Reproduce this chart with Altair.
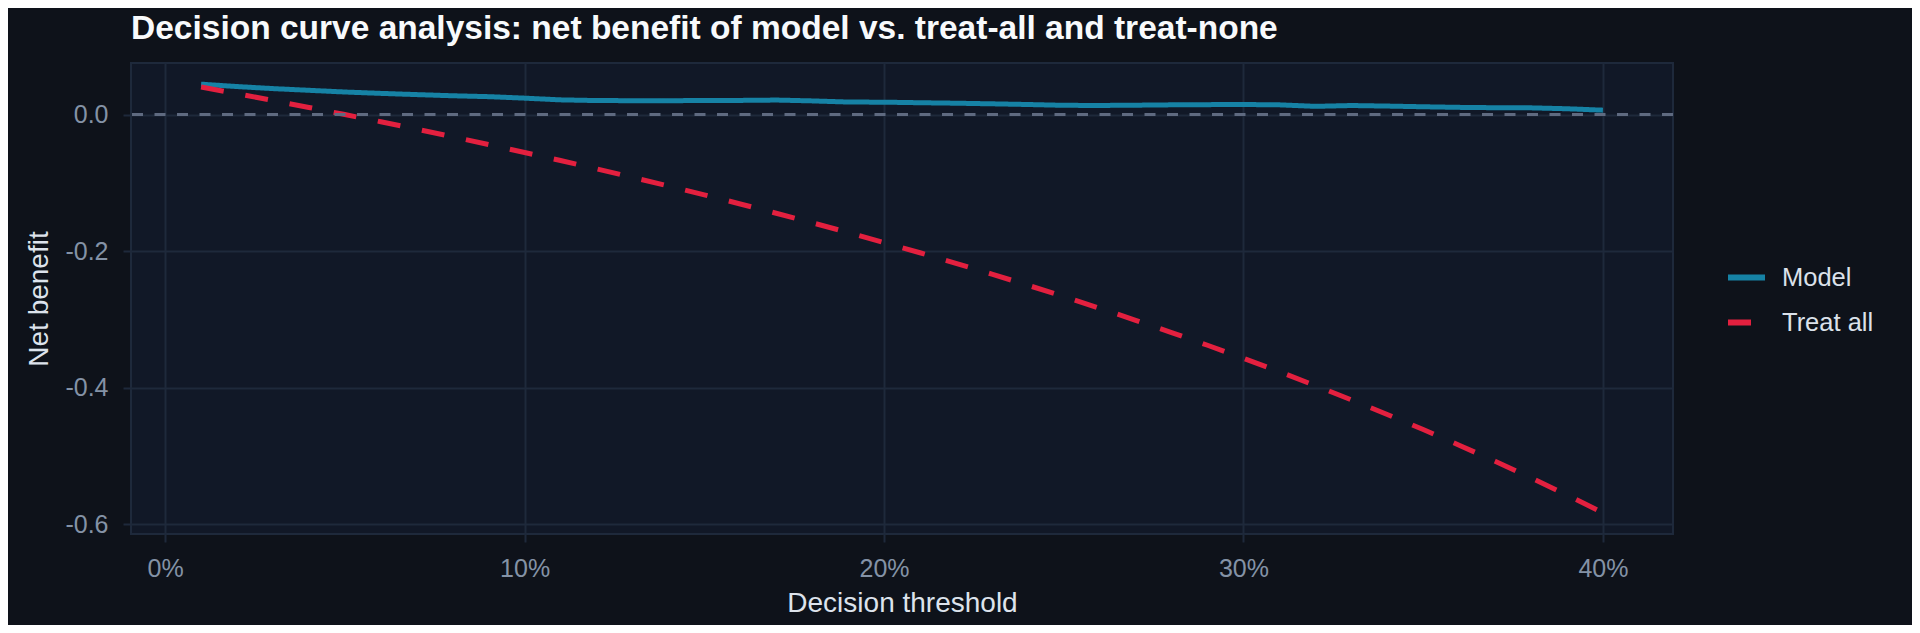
import altair as alt
import pandas as pd

thresholds = [round(0.01 * i, 2) for i in range(1, 41)]

model_nb = [0.0445, 0.0410, 0.0380, 0.0355, 0.0330, 0.0310, 0.0292, 0.0275, 0.0262, 0.0240,
            0.0215, 0.0205, 0.0203, 0.0203, 0.0205, 0.0207, 0.0212, 0.0200, 0.0183, 0.0181,
            0.0173, 0.0166, 0.0157, 0.0147, 0.0135, 0.0133, 0.0137, 0.0142, 0.0145, 0.0147,
            0.0142, 0.0120, 0.0132, 0.0124, 0.0114, 0.0105, 0.0100, 0.0098, 0.0085, 0.0064]

treat_all_nb = [0.0404, 0.0306, 0.0206, 0.0104, 0.0000, -0.0106, -0.0215, -0.0326, -0.0440, -0.0556,
                -0.0674, -0.0795, -0.0920, -0.1047, -0.1176, -0.1310, -0.1446, -0.1585, -0.1728, -0.1875,
                -0.2025, -0.2179, -0.2338, -0.2500, -0.2667, -0.2838, -0.3014, -0.3194, -0.3380, -0.3571,
                -0.3768, -0.3971, -0.4179, -0.4394, -0.4615, -0.4844, -0.5079, -0.5323, -0.5574, -0.5833]

series_names = ["Model", "Treat all"]
series_colors = ["#1682a5", "#e3203f"]

x_ticks = [0.0, 0.1, 0.2, 0.3, 0.4]
y_ticks = [0.0, -0.2, -0.4, -0.6]

df = pd.DataFrame({
    "threshold": thresholds * 2,
    "net_benefit": model_nb + treat_all_nb,
    "series": [series_names[0]] * len(thresholds) + [series_names[1]] * len(thresholds),
})
zero_df = pd.DataFrame({"zero": [0.0]})

FONT = "Liberation Sans"

x_scale = alt.Scale(domain=[-0.0095, 0.4195], nice=False, zero=False)
y_scale = alt.Scale(domain=[-0.6145, 0.0755], nice=False, zero=False)

lines = alt.Chart(df).mark_line(strokeWidth=5, strokeCap="butt").encode(
    x=alt.X("threshold:Q", scale=x_scale,
            axis=alt.Axis(title="Decision threshold", values=x_ticks, format=".0%",
                          labelPadding=14, titlePadding=8)),
    y=alt.Y("net_benefit:Q", scale=y_scale,
            axis=alt.Axis(title="Net benefit", values=y_ticks,
                          labelExpr="datum.value < 0 ? '-' + format(-datum.value, '.1f') : format(datum.value, '.1f')",
                          labelPadding=15, titlePadding=11)),
    color=alt.Color("series:N", scale=alt.Scale(domain=series_names, range=series_colors),
                    legend=alt.Legend(title=None, orient="none", legendX=1594, legendY=193)),
    strokeDash=alt.StrokeDash("series:N", scale=alt.Scale(domain=series_names, range=[[1, 0], [23, 22]]),
                              legend=alt.Legend(title=None, orient="none", legendX=1594, legendY=193)),
)

zero_rule = alt.Chart(zero_df).mark_rule(color="#5f6a80", strokeWidth=3, strokeDash=[11, 11.5]).encode(
    y=alt.Y("zero:Q", scale=y_scale)
)

chart = alt.layer(lines, zero_rule).properties(
    width=1542,
    height=471,
    autosize=alt.AutoSizeParams(type="none"),
    padding={"left": 123, "top": 55, "right": 239, "bottom": 91},
    title=alt.TitleParams(
        text="Decision curve analysis: net benefit of model vs. treat-all and treat-none",
        anchor="start", frame="group", font=FONT, fontSize=33.5, fontWeight="bold",
        color="#f8fafc", baseline="bottom", offset=17, dy=33,
    ),
).configure(
    background="#0e121a",
).configure_view(
    fill="#111827", stroke="#1e293b", strokeWidth=2,
).configure_axis(
    domain=False,
    grid=True, gridColor="#1e293b", gridWidth=2,
    ticks=True, tickColor="#1e293b", tickWidth=2, tickSize=8,
    labelFont=FONT, labelFontSize=25, labelColor="#8492a6",
    titleFont=FONT, titleFontSize=28, titleColor="#dde3ec", titleFontWeight="normal",
).configure_legend(
    labelFont=FONT, labelFontSize=25.5, labelColor="#dbe1ea",
    symbolType="stroke", symbolSize=1369, symbolStrokeWidth=6,
    labelOffset=14, rowPadding=10,
)

chart.save("out.html", embed_options={"renderer": "svg", "actions": False})
